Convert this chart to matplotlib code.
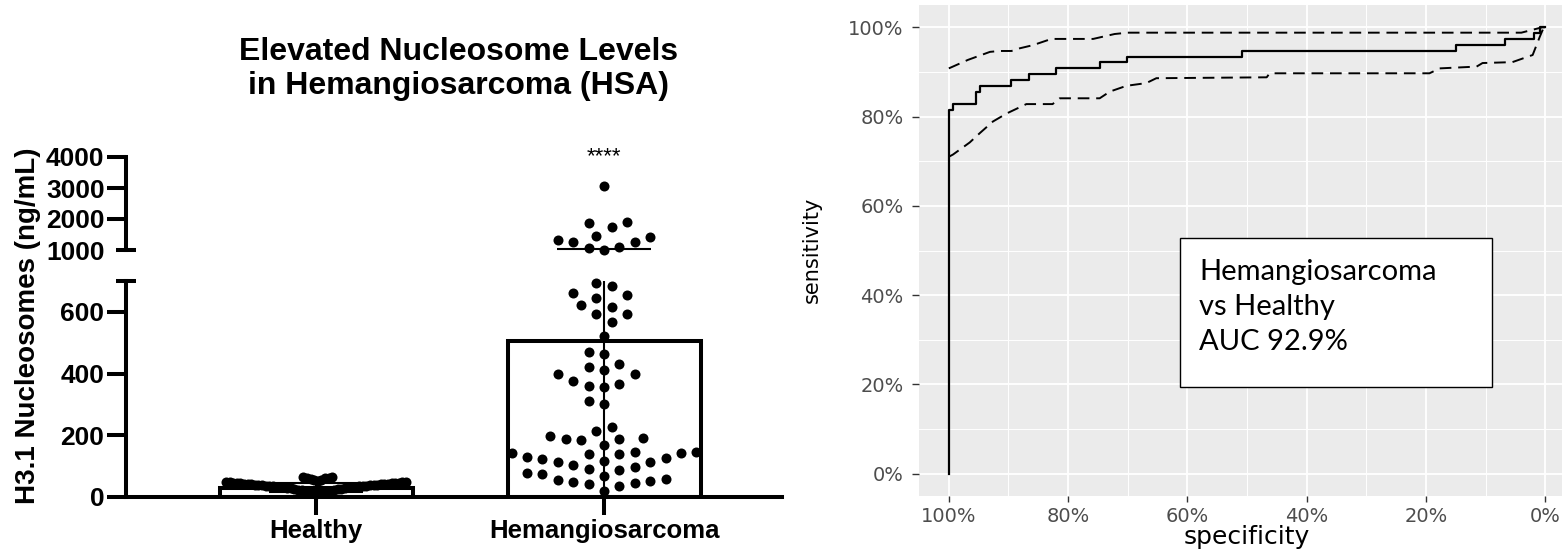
import numpy as np
import matplotlib
matplotlib.use('Agg')
import matplotlib.pyplot as plt
from matplotlib.patches import Rectangle

# ---- left panel data (ng/mL) ----
groups = ['Healthy', 'Hemangiosarcoma']
bar_mean = [30, 505]
bar_sd = [15, 525]

healthy = [66, 64, 63, 61, 60, 58, 56, 54, 52, 50, 49, 48, 47, 46, 46, 45, 45,
           44, 44, 43, 43, 42, 42, 41, 41, 40, 40, 39, 39, 38, 38, 37, 37, 36,
           36, 35, 35, 34, 34, 33, 33, 32, 31, 30, 29, 28, 27, 26, 25, 24, 23,
           22, 21, 20, 19, 18, 16, 14, 12, 10]

hsa = [3074, 1913, 1752, 1880, 1452, 1333, 1247, 1054, 1010, 1107, 1269, 1409,
       693, 685, 662, 655, 646, 622, 616, 592, 592, 567, 522, 469, 465, 431,
       422, 411, 400, 400, 375, 367, 361, 357, 302, 310,
       227, 213, 197, 190, 187, 185, 187, 170, 147, 142, 139, 128, 129, 140,
       142, 147, 123, 112, 104, 90, 77, 75, 86, 96, 112, 118, 67, 54, 47, 43,
       37, 45, 53, 58, 18]

low_ticks = [0, 200, 400, 600]
high_ticks = [1000, 2000, 3000, 4000]

# ---- right panel data (%) ----
roc_spec = [100, 100, 99.3, 95.5, 94.8, 89.5, 86.5, 82.1, 74.6, 70.1, 50.8, 15.0, 6.8, 1.8, 0.9, 0]
roc_sens = [0, 81.5, 82.8, 85.4, 86.8, 88.2, 89.5, 90.8, 92.2, 93.4, 94.8, 96.0, 97.4, 98.7, 100, 100]

ci_hi_spec = [100, 96.8, 93.1, 91.5, 89.5, 88.1, 85.9, 82.8, 75.8, 72.2, 70.0, 4.0, 0.5, 0]
ci_hi_sens = [90.8, 92.7, 94.5, 94.7, 94.7, 95.3, 96.0, 97.4, 97.4, 98.5, 98.8, 98.8, 100, 100]

ci_lo_spec = [100, 99.3, 96.5, 94.8, 92.6, 90.3, 87.0, 82.6, 81.4, 74.7, 73.0, 70.2,
              66.9, 65.2, 46.7, 46.2, 19.4, 17.7, 11.5, 10.5, 5.5, 2.1, 0.9, 0.3, 0]
ci_lo_sens = [71.0, 71.5, 74.2, 76.3, 78.9, 80.7, 82.8, 82.8, 84.1, 84.1, 85.6, 86.9,
              87.5, 88.6, 88.8, 89.7, 89.7, 90.8, 91.2, 92.0, 92.2, 93.8, 97.9, 99.8, 100]

pct_ticks = [100, 80, 60, 40, 20, 0]
auc_text = 'Hemangiosarcoma\nvs Healthy\nAUC 92.9%'

W, H = 1562, 551
fig = plt.figure(figsize=(W / 100, H / 100), dpi=100)
bold = dict(family='Liberation Sans', fontweight='bold')

# ---------------- left: broken axis bar + swarm ----------------
xl = (-0.66, 1.618)
ax_low = fig.add_axes([126 / W, (H - 497) / H, 656 / W, (497 - 281) / H])
ax_high = fig.add_axes([126 / W, (H - 250) / H, 656 / W, (250 - 157) / H])
for a in (ax_low, ax_high):
    a.set_xlim(*xl)
    a.set_facecolor('none')
    for s in ('top', 'right'):
        a.spines[s].set_visible(False)
    a.spines['left'].set_linewidth(2.9)
    a.tick_params(axis='y', length=14, width=2.9, pad=1.5, labelsize=19)
ax_low.set_ylim(0, 700)
ax_high.set_ylim(1000, 4000)
ax_high.spines['bottom'].set_visible(False)
ax_high.set_xticks([])
ax_low.spines['bottom'].set_linewidth(2.9)
ax_low.tick_params(axis='x', length=13, width=2.9, pad=3, labelsize=18.5)

ax_low.set_yticks(low_ticks)
ax_high.set_yticks(high_ticks)
ax_low.set_xticks([0, 1])
ax_low.set_xticklabels(groups)
for a in (ax_low, ax_high):
    for lab in a.get_xticklabels() + a.get_yticklabels():
        lab.set_fontfamily('Liberation Sans')
        lab.set_fontweight('bold')

# break marks
ax_high.yaxis.get_major_ticks()[0].tick1line.set_visible(False)
ax_high.plot([xl[0]], [1000], marker='_', ms=15, mew=2.9, color='k', clip_on=False)
ax_low.plot([xl[0]], [700], marker='_', ms=15, mew=2.9, color='k', clip_on=False)

# bars + error bars
ax_low.bar([0, 1], bar_mean, width=0.67, facecolor='white', edgecolor='k',
           linewidth=2.9, zorder=2)
for a in (ax_low, ax_high):
    a.errorbar([0, 1], bar_mean, yerr=bar_sd, fmt='none', ecolor='k',
               elinewidth=1.5, capsize=34, capthick=1.5, zorder=5)


def swarm(vals, xc, step=7.7, dist=14.5, maxw=None):
    # pixel positions, then simple beeswarm packing
    pys = []
    for v in vals:
        a = ax_high if v > 700 else ax_low
        pys.append(a.transData.transform((xc, v))[1])
    pys = np.array(pys)
    offs = np.zeros(len(vals))
    placed = []
    for n, i in enumerate(np.argsort(pys)):
        y = pys[i]
        k = 0
        found = None
        while found is None:
            cands = [0] if k == 0 else ([k, -k] if n % 2 else [-k, k])
            for c in cands:
                dx = c * step
                if all((dx - px) ** 2 + (y - py) ** 2 >= dist ** 2 for px, py in placed):
                    found = dx
                    break
            k += 1
        placed.append((found, y))
        offs[i] = found
    if maxw is not None and np.abs(offs).max() > maxw:
        offs = offs * maxw / np.abs(offs).max()
    ppu = ax_low.transData.transform((1, 0))[0] - ax_low.transData.transform((0, 0))[0]
    return xc + offs / ppu


for xc, vals, mw in ((0, healthy, 90), (1, hsa, None)):
    vals = np.array(vals, dtype=float)
    xs = swarm(vals, xc, maxw=mw)
    lo = vals <= 700
    ax_low.scatter(xs[lo], vals[lo], s=52, color='k', zorder=3, clip_on=False, linewidths=0)
    ax_high.scatter(xs[~lo], vals[~lo], s=52, color='k', zorder=3, clip_on=False, linewidths=0)

ax_high.text(1, 4000, '****', ha='center', va='center', fontsize=16,
             family='Liberation Sans')

fig.text(459 / W, (H - 69) / H, 'Elevated Nucleosome Levels\nin Hemangiosarcoma (HSA)',
         ha='center', va='center', fontsize=23, linespacing=1.2, **bold)
fig.text(28 / W, (H - 326) / H, 'H3.1 Nucleosomes (ng/mL)', rotation=90,
         ha='center', va='center', fontsize=20, **bold)

# ---------------- right: ROC ----------------
ax = fig.add_axes([919 / W, (H - 496) / H, 656 / W, 491 / H])
ax.set_facecolor('#EBEBEB')
ax.set_xlim(105, -5)
ax.set_ylim(-5, 105)
for s in ax.spines.values():
    s.set_visible(False)
ax.set_xticks(pct_ticks)
ax.set_xticklabels([f'{t}%' for t in pct_ticks])
ax.set_yticks(pct_ticks)
ax.set_yticklabels([f'{t}%' for t in pct_ticks])
ax.set_xticks([90, 70, 50, 30, 10], minor=True)
ax.set_yticks([90, 70, 50, 30, 10], minor=True)
ax.grid(which='major', color='white', linewidth=1.3)
ax.grid(which='minor', color='white', linewidth=0.7)
ax.set_axisbelow(True)
ax.tick_params(which='major', length=4, width=1, color='#333333',
               labelcolor='#4D4D4D', labelsize=14, pad=4)
ax.tick_params(axis='y', which='major', length=5, pad=6)
ax.tick_params(which='minor', length=0)

ax.step(roc_spec, roc_sens, where='post', color='k', linewidth=1.6, zorder=3)
ax.plot(ci_hi_spec, ci_hi_sens, color='k', linewidth=1.4, linestyle=(0, (6, 3.5)), zorder=3)
ax.plot(ci_lo_spec, ci_lo_sens, color='k', linewidth=1.4, linestyle=(0, (6, 3.5)), zorder=3)

ax.add_patch(Rectangle((0.398, 0.222), 0.475, 0.303, transform=ax.transAxes,
                       facecolor='white', edgecolor='k', linewidth=1, zorder=4))
ax.text(0.427, 0.385, auc_text, transform=ax.transAxes, ha='left', va='center',
        fontsize=21, family='Lato', linespacing=1.45, zorder=5)

fig.text(1247 / W, (H - 537) / H, 'specificity', ha='center', va='center',
         fontsize=18, family='DejaVu Sans')
fig.text(812 / W, (H - 250) / H, 'sensitivity', rotation=90, ha='center', va='center',
         fontsize=15, family=['Liberation Sans Narrow', 'DejaVu Sans'])

fig.savefig('out.png', dpi=100)
